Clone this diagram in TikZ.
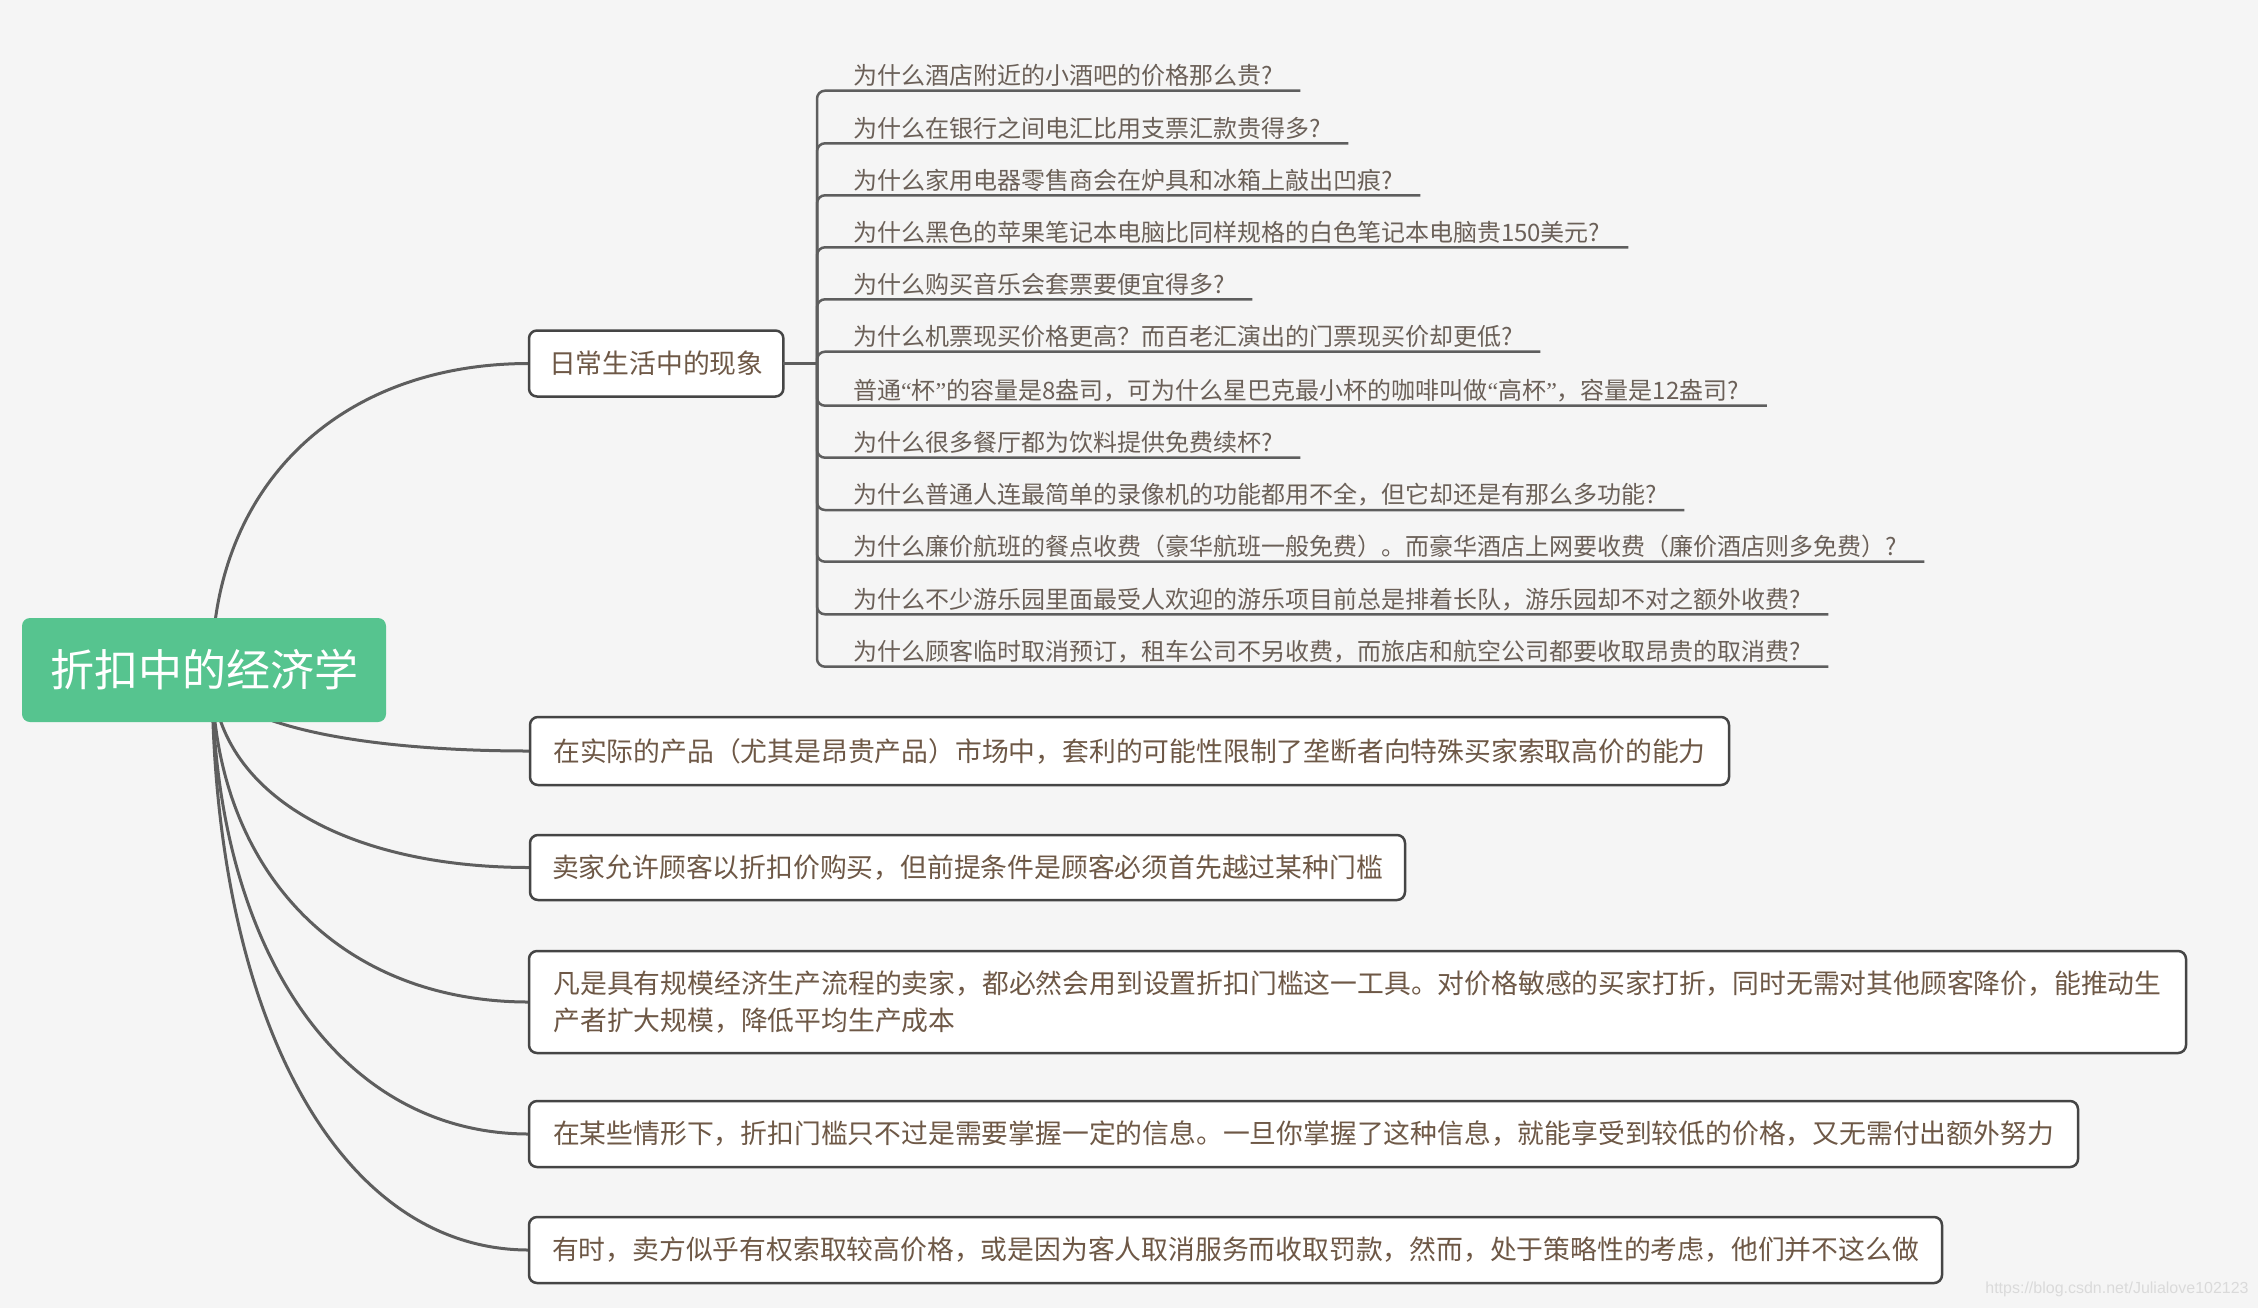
\documentclass[tikz,border=0pt]{standalone}
\usepackage{fontspec}
\setmainfont{Liberation Sans}
\newfontfamily\cjk{Noto Sans CJK SC}
\newfontfamily\qfont{Liberation Serif}
\usetikzlibrary{calc}
\definecolor{bgc}{HTML}{F5F5F5}
\definecolor{rootgreen}{HTML}{56C48F}
\definecolor{boxborder}{HTML}{454545}
\definecolor{connc}{HTML}{5E5E5E}
\definecolor{boxtext}{HTML}{6E5846}
\definecolor{leaftext}{HTML}{6B6058}
\definecolor{wmark}{HTML}{DADADA}
\pgfdeclarelayer{back}
\pgfdeclarelayer{lines}
\pgfsetlayers{back,lines,main}
\tikzset{
  leaf/.style={font=\cjk\fontsize{12}{14}\selectfont, text=leaftext, inner sep=0pt, outer sep=0pt, anchor=west},
  bigbox/.style={draw=boxborder, line width=1.25pt, fill=white, rounded corners=4pt,
    inner xsep=10pt, inner ysep=0pt, outer sep=0pt, font=\cjk\fontsize{13.4}{18.4}\selectfont,
    text=boxtext, anchor=west, align=left},
  rootbox/.style={fill=rootgreen, rounded corners=4pt, text=white, font=\cjk\fontsize{22}{26}\selectfont,
    minimum width=182pt, minimum height=52pt, outer sep=0pt, inner sep=0pt},
  conn/.style={draw=connc, line width=1.5pt},
  leafline/.style={draw=connc, line width=1.25pt, rounded corners=4pt},
}
\newcommand\myopenq{{\qfont “}}
\newcommand\mycloseq{{\qfont ”}}
\begin{document}
\begin{tikzpicture}[x=0.5pt,y=-0.5pt]
\begin{pgfonlayer}{back}
  \fill[bgc] (0,0) rectangle (2258,1308);
\end{pgfonlayer}
\useasboundingbox (0,0) rectangle (2258,1308);

% root
\node[rootbox] (root) at (204,670) {折扣中的经济学};
\coordinate (rs) at (212,670);

% sub topic and boxes
\node[bigbox, minimum width=127pt, minimum height=33pt] (sub) at (529,363.5) {日常生活中的现象};
\node[bigbox, minimum width=599.5pt, minimum height=34pt] (A) at (530,751) {在实际的产品（尤其是昂贵产品）市场中，套利的可能性限制了垄断者向特殊买家索取高价的能力};
\node[bigbox, minimum width=437.5pt, minimum height=32.5pt] (B) at (530,867.5) {卖家允许顾客以折扣价购买，但前提条件是顾客必须首先越过某种门槛};
\node[bigbox, minimum width=828.5pt, minimum height=51pt] (C) at (529,1002) {凡是具有规模经济生产流程的卖家，都必然会用到设置折扣门槛这一工具。对价格敏感的买家打折，同时无需对其他顾客降价，能推动生\\产者扩大规模，降低平均生产成本};
\node[bigbox, minimum width=774.5pt, minimum height=33pt] (D) at (529,1134) {在某些情形下，折扣门槛只不过是需要掌握一定的信息。一旦你掌握了这种信息，就能享受到较低的价格，又无需付出额外努力};
\node[bigbox, minimum width=706.5pt, minimum height=33pt] (E) at (529,1250) {有时，卖方似乎有权索取较高价格，或是因为客人取消服务而收取罚款，然而，处于策略性的考虑，他们并不这么做};

% root connectors
\begin{pgfonlayer}{lines}
\foreach \n in {sub,A,B,C,D,E}{
  \draw[conn] (rs) .. controls ($(rs)!0.6!(rs |- \n.west)$) and ($(\n.west)!0.6!(rs |- \n.west)$) .. (\n.west);
}
\end{pgfonlayer}

% leaves
\coordinate (J) at (817,363.5);
\draw[leafline] (sub.east) -- (J);
\node[leaf] (l1) at (853,75.7) {为什么酒店附近的小酒吧的价格那么贵?};
\node[leaf] (l2) at (853,128.3) {为什么在银行之间电汇比用支票汇款贵得多?};
\node[leaf] (l3) at (853,180.3) {为什么家用电器零售商会在炉具和冰箱上敲出凹痕?};
\node[leaf] (l4) at (853,232.3) {为什么黑色的苹果笔记本电脑比同样规格的白色笔记本电脑贵150美元?};
\node[leaf] (l5) at (853,284.3) {为什么购买音乐会套票要便宜得多?};
\node[leaf] (l6) at (853,336.7) {为什么机票现买价格更高？而百老汇演出的门票现买价却更低?};
\node[leaf] (l7) at (853,390.7) {普通\myopenq 杯\mycloseq 的容量是8盎司，可为什么星巴克最小杯的咖啡叫做\myopenq 高杯\mycloseq ，容量是12盎司?};
\node[leaf] (l8) at (853,442.7) {为什么很多餐厅都为饮料提供免费续杯?};
\node[leaf] (l9) at (853,495) {为什么普通人连最简单的录像机的功能都用不全，但它却还是有那么多功能?};
\node[leaf] (l10) at (853,546.7) {为什么廉价航班的餐点收费（豪华航班一般免费）。而豪华酒店上网要收费（廉价酒店则多免费）?};
\node[leaf] (l11) at (853,599.3) {为什么不少游乐园里面最受人欢迎的游乐项目前总是排着长队，游乐园却不对之额外收费?};
\node[leaf] (l12) at (853,651.7) {为什么顾客临时取消预订，租车公司不另收费，而旅店和航空公司都要收取昂贵的取消费?};
\foreach \i in {1,...,12}{
  \coordinate (u\i) at ($(l\i.east)+(28,15)$);
  \draw[leafline] (J) |- (u\i);
}

% watermark
\node[text=wmark, font=\fontsize{8}{9}\selectfont, inner sep=0pt] (wm) at (2117,1289) {https://blog.csdn.net/Julialove102123};
\end{tikzpicture}
\end{document}
